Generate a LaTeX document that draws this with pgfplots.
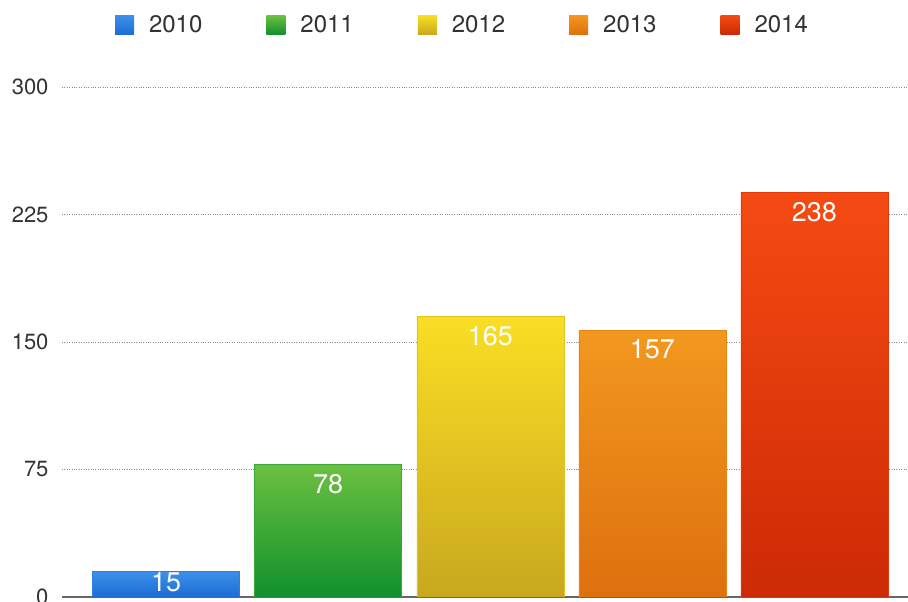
\documentclass[border=0pt]{standalone}
\usepackage{fontspec}
\setmainfont{TeX Gyre Heros}
\usepackage{pgfplots}
\pgfplotsset{compat=1.18}
\definecolor{txt}{HTML}{333333}
\definecolor{bluetop}{HTML}{3C90EA}
\definecolor{bluebot}{HTML}{1C6CD4}
\definecolor{greentop}{HTML}{6CC040}
\definecolor{greenbot}{HTML}{10902C}
\definecolor{yeltop}{HTML}{F9DE24}
\definecolor{yelbot}{HTML}{C8A81E}
\definecolor{ortop}{HTML}{F2981F}
\definecolor{orbot}{HTML}{DE700E}
\definecolor{redtop}{HTML}{F54A12}
\definecolor{redbot}{HTML}{CC2A05}
\begin{document}
\begin{tikzpicture}
\path[use as bounding box] (-62bp,-5bp) rectangle (846bp,597bp);
\begin{axis}[
  scale only axis, width=846bp, height=510bp,
  xmin=-0.642, xmax=4.577, ymin=0, ymax=300,
  ytick={0,75,150,225,300}, xtick=\empty,
  axis x line=bottom, axis y line=left,
  y axis line style={draw=none},
  x axis line style={-, draw=black!60, line width=1.3bp},
  major tick length=0pt,
  ymajorgrids, grid style={dotted, black!45, line width=0.8bp},
  /pgf/number format/assume math mode=true,
  yticklabel style={font=\fontsize{22bp}{26bp}\selectfont, text=txt, xshift=-10bp},
  ybar, bar width=147bp, bar shift=0pt,
  nodes near coords,
  every node near coord/.append style={font=\fontsize{27bp}{32bp}\selectfont, text=white, anchor=north, yshift=-6bp},
  legend columns=5,
  legend image code/.code={\path[#1,draw=none] (0bp,-9.5bp) rectangle (19bp,9.5bp);},
  legend style={at={(0.4722,1.1216)}, anchor=center, draw=none, fill=none,
    font=\fontsize{24bp}{28bp}\selectfont, text=txt,
    nodes={inner sep=0pt},
    /tikz/every odd column/.append style={column sep=15bp},
    /tikz/every even column/.append style={column sep=64bp}},
]
\addplot[top color=bluetop, bottom color=bluebot, draw=bluebot!50!bluetop, line width=0.4bp,
  every node near coord/.append style={yshift=9bp}] coordinates {(0,15)};
\addlegendentry{2010}
\addplot[top color=greentop, bottom color=greenbot, draw=greenbot!50!greentop, line width=0.4bp] coordinates {(1,78)};
\addlegendentry{2011}
\addplot[top color=yeltop, bottom color=yelbot, draw=yelbot!50!yeltop, line width=0.4bp] coordinates {(2,165)};
\addlegendentry{2012}
\addplot[top color=ortop, bottom color=orbot, draw=orbot!50!ortop, line width=0.4bp] coordinates {(3,157)};
\addlegendentry{2013}
\addplot[top color=redtop, bottom color=redbot, draw=redbot!50!redtop, line width=0.4bp] coordinates {(4,238)};
\addlegendentry{2014}
\end{axis}
\end{tikzpicture}
\end{document}
